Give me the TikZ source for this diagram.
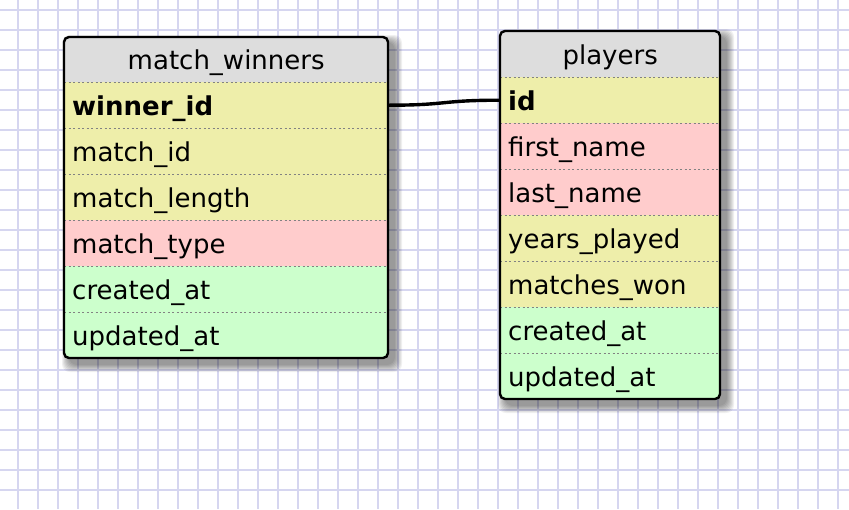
\documentclass[tikz,border=0pt]{standalone}
\usepackage{fontspec}
\setmainfont{DejaVu Sans}
\usetikzlibrary{calc}
\definecolor{gridc}{RGB}{214,214,240}
\definecolor{hdr}{RGB}{221,221,221}
\definecolor{yel}{RGB}{238,238,170}
\definecolor{pnk}{RGB}{255,204,204}
\definecolor{grn}{RGB}{204,255,204}
\definecolor{sepc}{RGB}{130,130,130}
\tikzset{
  cell/.style={anchor=north west, minimum height=46pt, text width=#1, inner xsep=8pt, inner ysep=0pt,
    text height=22pt, text depth=1pt, align=left, draw=none},
  hcell/.style={cell=#1, align=center},
  sepline/.style={sepc, line width=1.5pt, dash pattern=on 2pt off 2.5pt},
  border/.style={black, line width=2.4pt, rounded corners=5pt},
  shadowlayer/.style={black, opacity=0.06, rounded corners=8pt},
  link/.style={black, line width=3.4pt},
}
\begin{document}
\begin{tikzpicture}[x=1pt,y=-1pt, font=\fontsize{26}{30}\selectfont]
\useasboundingbox (0,0) rectangle (849,509);
\fill[white] (0,0) rectangle (849,509);
% grid
\foreach \x in {18,38,...,848} \draw[gridc, line width=2pt] (\x,0) -- (\x,509);
\foreach \y in {10,30,...,508} \draw[gridc, line width=2pt] (0,\y) -- (849,\y);
% shadows
\foreach \k in {1,...,8} {
  \fill[shadowlayer] ({64+6-\k},{37+6-\k}) rectangle ({388+6+\k},{358+6+\k});
  \fill[shadowlayer] ({500+6-\k},{31+6-\k}) rectangle ({720+6+\k},{399+6+\k});
}
% table match_winners
\begin{scope}
\clip[rounded corners=5pt] (64,37) rectangle (388,358);
\fill[white] (64,37) rectangle (388,358);
\node[hcell=308pt, fill=hdr, minimum height=45pt, text height=21pt] (mwh) at (64,37) {match\_winners};
\node[cell=308pt, fill=yel] (mw1) at (64,82) {\textbf{winner\_id}};
\node[cell=308pt, fill=yel] (mw2) at (64,128) {match\_id};
\node[cell=308pt, fill=yel] (mw3) at (64,174) {match\_length};
\node[cell=308pt, fill=pnk] (mw4) at (64,220) {match\_type};
\node[cell=308pt, fill=grn] (mw5) at (64,266) {created\_at};
\node[cell=308pt, fill=grn] (mw6) at (64,312) {updated\_at};
\foreach \a/\b in {mwh/mw1,mw1/mw2,mw2/mw3,mw3/mw4,mw4/mw5,mw5/mw6}
  \draw[sepline] (\a.south west) -- (\a.south east);
\end{scope}
\draw[border] (64,37) rectangle (388,358);
% table players
\begin{scope}
\clip[rounded corners=5pt] (500,31) rectangle (720,399);
\fill[white] (500,31) rectangle (720,399);
\node[hcell=204pt, fill=hdr] (plh) at (500,31) {players};
\node[cell=204pt, fill=yel] (pl1) at (500,77) {\textbf{id}};
\node[cell=204pt, fill=pnk] (pl2) at (500,123) {first\_name};
\node[cell=204pt, fill=pnk] (pl3) at (500,169) {last\_name};
\node[cell=204pt, fill=yel] (pl4) at (500,215) {years\_played};
\node[cell=204pt, fill=yel] (pl5) at (500,261) {matches\_won};
\node[cell=204pt, fill=grn] (pl6) at (500,307) {created\_at};
\node[cell=204pt, fill=grn] (pl7) at (500,353) {updated\_at};
\foreach \a in {plh,pl1,pl2,pl3,pl4,pl5,pl6}
  \draw[sepline] (\a.south west) -- (\a.south east);
\end{scope}
\draw[border] (500,31) rectangle (720,399);
% connector
\draw[link] (mw1.east) .. controls +(60,0) and +(-60,0) .. (pl1.west);
\end{tikzpicture}
\end{document}
